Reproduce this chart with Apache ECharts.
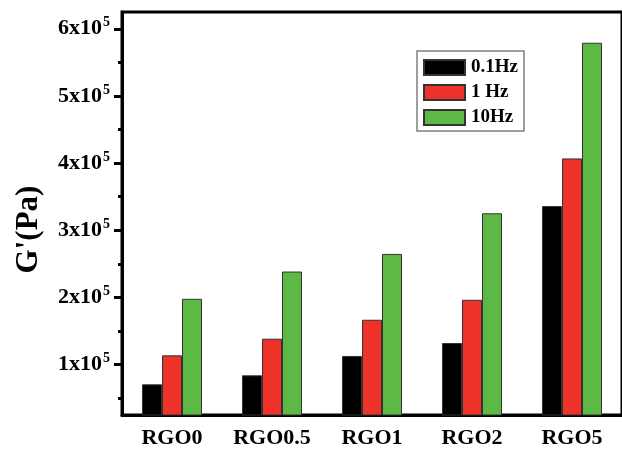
<!DOCTYPE html>
<html>
<head>
<meta charset="utf-8">
<script src="https://cdn.jsdelivr.net/npm/echarts@6/dist/echarts.min.js"></script>
<style>html,body{margin:0;padding:0;background:#fff}#c{width:622px;height:449px}</style>
</head>
<body>
<div id="c"></div>
<script>
const categories = ['RGO0', 'RGO0.5', 'RGO1', 'RGO2', 'RGO5'];
const seriesNames = ['0.1Hz', '1 Hz', '10Hz'];
const g01Hz = [70700, 84100, 112900, 132200, 336100];
const g1Hz = [113800, 138600, 166800, 196500, 407000];
const g10Hz = [198000, 238600, 264800, 325300, 579200];
const majorTicks = [100000, 200000, 300000, 400000, 500000, 600000];
const minorTicks = [50000, 150000, 250000, 350000, 450000, 550000];
const tickMantissa = ['1', '2', '3', '4', '5', '6'];

const colors = ['#000000', '#EE3229', '#5DB946'];
const font = 'Liberation Serif';

const chart = echarts.init(document.getElementById('c'), null, {renderer: 'canvas'});
const seriesData = [g01Hz, g1Hz, g10Hz];

chart.setOption({
  animation: false,
  backgroundColor: '#fff',
  grid: {left: 122, top: 12, right: -8, bottom: 33, show: true, borderColor: '#000', borderWidth: 3, backgroundColor: 'transparent'},
  legend: {
    orient: 'vertical', left: 417, top: 51,
    data: seriesNames,
    itemWidth: 41, itemHeight: 15, itemGap: 6,
    padding: [7, 6, 4, 6],
    borderColor: '#808080', borderWidth: 1.5,
    textStyle: {fontFamily: font, fontWeight: 'bold', fontSize: 19, color: '#000', padding: [0, 0, 0, 1]},
    icon: 'rect'
  },
  xAxis: [{
    type: 'category', data: categories, position: 'bottom', boundaryGap: true,
    axisLine: {lineStyle: {color: '#000', width: 3}},
    axisTick: {alignWithLabel: true, length: 8, lineStyle: {color: '#000', width: 3}},
    axisLabel: {interval: 0, fontFamily: font, fontWeight: 'bold', fontSize: 22, color: '#000', margin: 12}
  }, {
    type: 'category', data: categories, position: 'bottom', boundaryGap: true,
    axisLine: {show: false},
    axisTick: {alignWithLabel: false, interval: 0, length: 5, lineStyle: {color: '#000', width: 3}},
    axisLabel: {show: false}
  }],
  yAxis: [{
    type: 'value', min: 25000, max: 625000, position: 'left',
    name: "G'(Pa)", nameLocation: 'middle', nameGap: 78, nameRotate: 90,
    nameTextStyle: {fontFamily: font, fontWeight: 'bold', fontSize: 31, color: '#000', padding: [0, 32, 0, 0]},
    axisLine: {show: true, lineStyle: {color: '#000', width: 3}},
    axisTick: {show: true, length: 8, customValues: majorTicks, lineStyle: {color: '#000', width: 3}},
    splitLine: {show: false},
    axisLabel: {
      customValues: majorTicks, margin: 12,
      formatter: function (v) {
        const i = majorTicks.indexOf(v);
        return '{m|' + tickMantissa[i] + 'x10}{s|5}';
      },
      rich: {
        m: {fontFamily: font, fontWeight: 'bold', fontSize: 22, color: '#000'},
        s: {fontFamily: font, fontWeight: 'bold', fontSize: 14, color: '#000', padding: [0, 0, 12, 1]}
      }
    }
  }, {
    type: 'value', min: 25000, max: 625000, position: 'left', offset: 0,
    axisLine: {show: false},
    axisTick: {show: true, length: 4, customValues: minorTicks, lineStyle: {color: '#000', width: 3}},
    splitLine: {show: false},
    axisLabel: {show: false}
  }],
  series: seriesNames.map((n, i) => ({
    name: n, type: 'bar', data: seriesData[i], xAxisIndex: 0, yAxisIndex: 0,
    barGap: '0%', barCategoryGap: '40%',
    itemStyle: {color: colors[i], borderColor: '#333', borderWidth: 1}
  }))
});
</script>
</body>
</html>
